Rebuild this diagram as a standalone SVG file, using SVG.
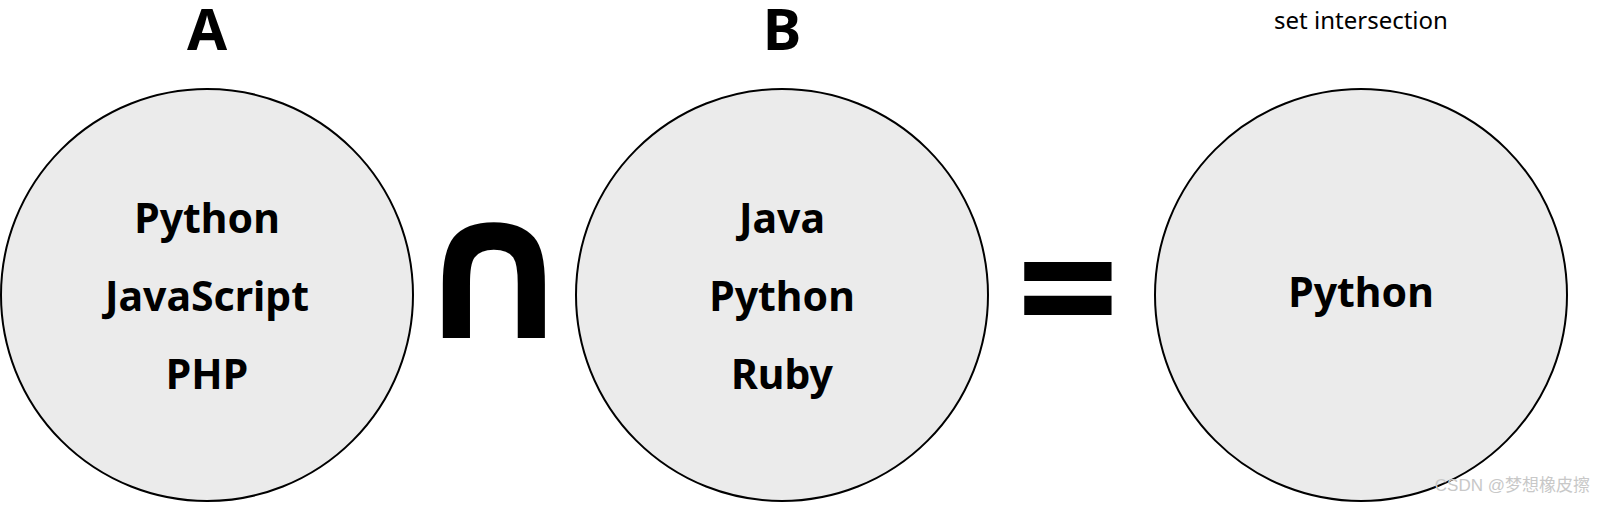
<svg xmlns="http://www.w3.org/2000/svg" width="1600" height="512" viewBox="0 0 1600 512">
<style>
.c{fill:#ebebeb;stroke:#000;stroke-width:2}
.t{font-family:"Noto Sans","DejaVu Sans",sans-serif;font-weight:bold;font-size:41px;text-anchor:middle;fill:#000}
.h{font-family:"Noto Sans","DejaVu Sans",sans-serif;font-weight:bold;font-size:58px;text-anchor:middle}
</style>
<rect width="1600" height="512" fill="#fff"/>
<text class="h" x="207" y="50">A</text>
<text class="h" x="782" y="50">B</text>
<text x="1361" y="29" font-family="Noto Sans,sans-serif" font-size="24" text-anchor="middle">set intersection</text>
<g id="setA"><circle class="c" cx="207" cy="295" r="206"/>
<text class="t" x="207" y="233">Python</text><text class="t" x="207" y="311">JavaScript</text><text class="t" x="207" y="389">PHP</text></g>
<g id="op1"><text class="h" x="494" y="338" style="font-size:200px">∩</text></g>
<g id="setB"><circle class="c" cx="782" cy="295" r="206"/>
<text class="t" x="782" y="233">Java</text><text class="t" x="782" y="311">Python</text><text class="t" x="782" y="389">Ruby</text></g>
<g id="op2"><text class="h" x="1068" y="352" style="font-size:180px">=</text></g>
<g id="result"><circle class="c" cx="1361" cy="295" r="206"/>
<text class="t" x="1361" y="307">Python</text></g>
<g id="connectors"/>
<text x="1590" y="491" font-family="Liberation Sans,Noto Sans CJK SC,sans-serif" font-size="17" fill="#c8c8c8" text-anchor="end">CSDN @梦想橡皮擦</text>
</svg>
